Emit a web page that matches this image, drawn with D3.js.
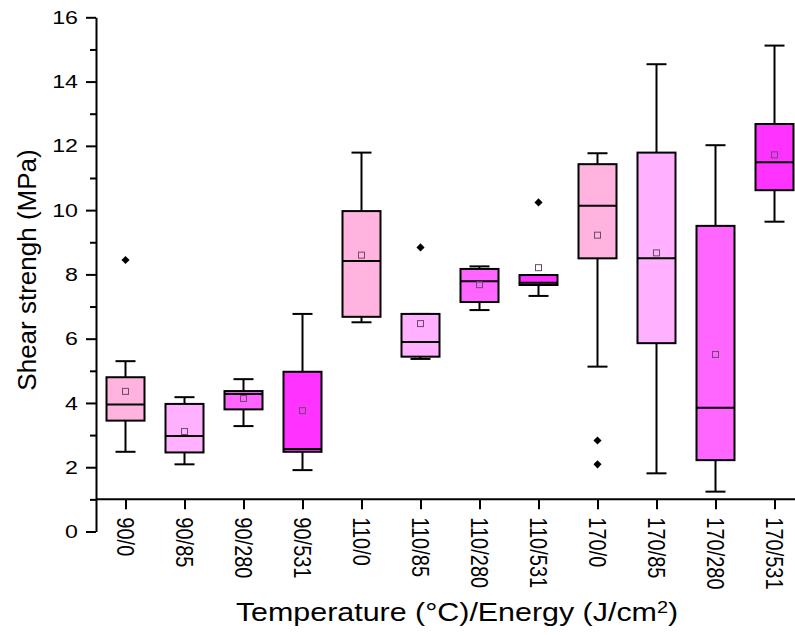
<!DOCTYPE html>
<meta charset="utf-8">
<style>
body { margin: 0; background: #fff; }
svg { font-family: Arial, "Liberation Sans", sans-serif; }
.box { stroke: #000; stroke-width: 2px; }
.whisker { stroke: #000; stroke-width: 2px; }
.median { stroke: #000; stroke-width: 2px; }
.mean { stroke: #6b4a6b; stroke-width: 1px; fill: none; }
.axis path, .axis line { stroke: #000; stroke-width: 2px; }
.axis text { fill: #000; }
</style>
<body>
<svg width="795" height="635"></svg>
<script src="https://cdn.jsdelivr.net/npm/d3@7"></script>
<script>

// groups: temperature (°C) / energy (J/cm2)
var categories = ["90/0", "90/85", "90/280", "90/531",
                  "110/0", "110/85", "110/280", "110/531",
                  "170/0", "170/85", "170/280", "170/531"];

// box statistics, MPa
var whiskerLow  = [2.48, 2.09, 3.28, 1.91, 6.51, 5.37, 6.89, 7.33, 5.13, 1.81, 1.24, 9.64];
var q1          = [3.45, 2.46, 3.80, 2.48, 6.68, 5.44, 7.14, 7.67, 8.50, 5.86, 2.22, 10.62];
var median      = [3.95, 2.97, 4.28, 2.57, 8.42, 5.90, 7.79, 7.74, 10.14, 8.50, 3.85, 11.49];
var q3          = [4.80, 3.97, 4.37, 4.97, 9.97, 6.77, 8.17, 7.98, 11.43, 11.79, 9.51, 12.68];
var whiskerHigh = [5.30, 4.18, 4.74, 6.77, 11.79, 6.77, 8.25, 7.98, 11.77, 14.54, 12.02, 15.12];
var mean        = [4.36, 3.11, 4.14, 3.76, 8.60, 6.47, 7.68, 8.21, 9.22, 8.67, 5.51, 11.72];
var outliers    = [[8.45], [], [], [], [], [8.84], [], [10.24], [2.83, 2.09], [], [], []];

var palette = ["#ffb3de", "#ffb0ff", "#ff66ff", "#ff33ff"];

var svg = d3.select("svg");

var x = d3.scalePoint().domain(categories).range([125.5, 774.5]);
var y = d3.scaleLinear().domain([0, 16]).range([531.5, 17.3]);

var axisX = 96;
var boxW = 38, capW = 20;
var stretch = 1.22; // glyphs are drawn a bit wide

// y axis: major every 2, minor every 1
svg.append("g")
    .attr("class", "axis")
    .attr("transform", "translate(" + axisX + ",0)")
    .call(d3.axisLeft(y).tickValues(d3.range(0, 17, 2)).tickSize(10).tickPadding(8).tickSizeOuter(0))
    .call(g => g.selectAll("text")
        .style("font-size", "19px")
        .attr("x", -18 / stretch)
        .attr("transform", "scale(" + stretch + ",1)"));

svg.append("g")
    .attr("class", "axis")
    .attr("transform", "translate(" + axisX + ",0)")
    .call(d3.axisLeft(y).tickValues(d3.range(1, 17, 2)).tickSize(6).tickFormat("").tickSizeOuter(0))
    .call(g => g.select(".domain").remove());

// x axis sits at y = 1
svg.append("g")
    .attr("class", "axis")
    .attr("transform", "translate(0," + y(1) + ")")
    .call(d3.axisBottom(x).tickSize(10).tickSizeOuter(0))
    .call(g => g.select(".domain").attr("d", "M" + axisX + ",0H795"))
    .call(g => g.selectAll("text")
        .style("font-size", "20px")
        .attr("text-anchor", "start")
        .attr("transform", "rotate(90) scale(1," + stretch + ")")
        .attr("x", 18)
        .attr("y", 0)
        .attr("dy", "0.35em"));

var groups = svg.append("g").selectAll("g")
    .data(categories)
    .join("g")
    .attr("transform", d => "translate(" + x(d) + ",0)");

// whiskers
groups.append("line").attr("class", "whisker")
    .attr("y1", (d, i) => y(whiskerLow[i])).attr("y2", (d, i) => y(q1[i]));
groups.append("line").attr("class", "whisker")
    .attr("y1", (d, i) => y(q3[i])).attr("y2", (d, i) => y(whiskerHigh[i]));
groups.append("line").attr("class", "whisker")
    .attr("x1", -capW / 2).attr("x2", capW / 2)
    .attr("y1", (d, i) => y(whiskerLow[i])).attr("y2", (d, i) => y(whiskerLow[i]));
groups.append("line").attr("class", "whisker")
    .attr("x1", -capW / 2).attr("x2", capW / 2)
    .attr("y1", (d, i) => y(whiskerHigh[i])).attr("y2", (d, i) => y(whiskerHigh[i]));

// boxes
groups.append("rect").attr("class", "box")
    .attr("x", -boxW / 2).attr("width", boxW)
    .attr("y", (d, i) => y(q3[i]))
    .attr("height", (d, i) => y(q1[i]) - y(q3[i]))
    .attr("fill", (d, i) => palette[i % 4]);

groups.append("line").attr("class", "median")
    .attr("x1", -boxW / 2).attr("x2", boxW / 2)
    .attr("y1", (d, i) => y(median[i])).attr("y2", (d, i) => y(median[i]));

// mean markers
groups.append("rect").attr("class", "mean")
    .attr("x", -3).attr("width", 6).attr("height", 6)
    .attr("y", (d, i) => y(mean[i]) - 3);

// outliers
var diamond = d3.symbol().type(d3.symbolDiamond2).size(42);
groups.each(function(d, i) {
  d3.select(this).selectAll(".outlier")
    .data(outliers[i])
    .join("path")
    .attr("class", "outlier")
    .attr("d", diamond)
    .attr("transform", v => "translate(0," + y(v) + ")")
    .attr("fill", "#000");
});

// axis titles
svg.append("text")
    .attr("transform", "translate(36,270) rotate(-90)")
    .attr("text-anchor", "middle")
    .style("font-size", "26px")
    .text("Shear strengh (MPa)");

var xt = svg.append("text")
    .attr("transform", "translate(457,621) scale(1.17,1)")
    .attr("text-anchor", "middle")
    .style("font-size", "26px");
xt.append("tspan").text("Temperature (°C)/Energy (J/cm");
xt.append("tspan").attr("dy", "-0.45em").style("font-size", "17px").text("2");
xt.append("tspan").attr("dy", "0.3em").text(")");

</script>
</body>
